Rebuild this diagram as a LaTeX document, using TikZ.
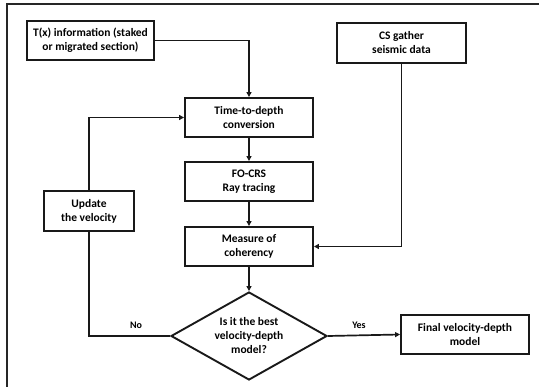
\documentclass[tikz,border=0pt]{standalone}
\usepackage{fontspec}
\setmainfont{Carlito}
\usetikzlibrary{arrows.meta,shapes.geometric}
\begin{document}
\begin{tikzpicture}[x=1pt,y=-1pt,
  box/.style={draw=black!90,line width=1.9pt,rectangle,align=center,inner sep=0pt,
    font=\fontsize{11.5}{14}\selectfont\bfseries},
  conn/.style={draw=black!90,line width=1.7pt},
  arr/.style={conn,-{Triangle[length=5pt,width=5pt]}},
  lbl/.style={font=\fontsize{10}{12}\selectfont\bfseries}]
\useasboundingbox (0,0) rectangle (539,387);
\draw[line width=1.4pt,black!85] (7,387) -- (7,4) -- (539,4);
\node[box,minimum width=127pt,minimum height=39pt] (tx) at (90.5,40.5) {T(x) information (staked\\or migrated section)};
\node[box,minimum width=129pt,minimum height=40pt] (cs) at (401.5,43) {CS gather\\seismic data};
\node[box,minimum width=128pt,minimum height=39pt] (td) at (249,117.5) {Time-to-depth\\conversion};
\node[box,minimum width=128pt,minimum height=39pt] (fo) at (249,181.5) {FO-CRS\\Ray tracing};
\node[box,minimum width=90pt,minimum height=40pt] (up) at (89,211) {Update\\the velocity};
\node[box,minimum width=128pt,minimum height=39pt] (me) at (249,246.5) {Measure of\\coherency};
\node[draw=black!90,line width=1.9pt,diamond,aspect=1.77,minimum width=156pt,minimum height=88pt,inner sep=0pt,align=center,
  font=\fontsize{11.5}{14}\selectfont\bfseries] (dm) at (249,336) {Is it the best\\velocity-depth\\model?};
\node[box,minimum width=128pt,minimum height=39pt] (fi) at (465,334.5) {Final velocity-depth\\model};
\draw[arr] (tx.east) -| (td.north);
\draw[arr] (up.north) |- (td.west);
\draw[arr] (td.south) -- (fo.north);
\draw[arr] (fo.south) -- (me.north);
\draw[arr] (cs.south) |- (me.east);
\draw[arr] (me.south) -- (dm.north);
\draw[conn] (dm.west) -| (up.south);
\draw[arr] (dm.east) -- (fi.west);
\node[lbl] (no) at (136,325) {No};
\node[lbl] (yes) at (359,325) {Yes};
\end{tikzpicture}
\end{document}
